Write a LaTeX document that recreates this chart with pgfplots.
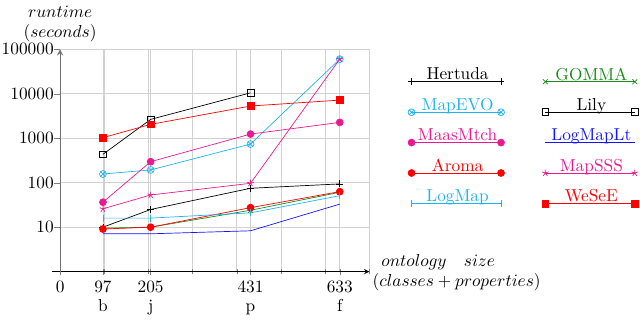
\documentclass[border=0pt]{standalone}
\usepackage{pgfplots}
\pgfplotsset{compat=1.18}
\usetikzlibrary{plotmarks}
\definecolor{mycyan}{RGB}{30,180,240}
\definecolor{mymagenta}{RGB}{235,25,145}
\definecolor{myred}{RGB}{255,0,0}
\definecolor{mygreen}{RGB}{25,140,25}
\definecolor{myblue}{RGB}{20,20,255}
\begin{document}
\begin{tikzpicture}
\begin{axis}[
  scale only axis, width=178bp, height=128bp,
  xmin=0, xmax=700, ymin=1, ymax=100000,
  ymode=log,
  axis lines=left,
  x axis line style={black, shorten <=-4.5bp},
  y axis line style={black!55, line width=0.6bp},
  xtick={0,97,205,431,633},
  xticklabels={0,{97\\b},{205\\j},{431\\p},{633\\f}},
  xticklabel style={align=center, font=\fontsize{10}{11}\selectfont},
  yticklabel style={inner xsep=1bp, xshift=1bp},
  minor xtick={100,200,300,400,500,600,700},
  ytick={10,100,1000,10000,100000},
  yticklabels={10,100,1000,10000,100000},
  yminorticks=false,
  xmajorgrids, ymajorgrids, xminorgrids,
  major grid style={gray!35},
  minor grid style={gray!35},
  major tick length=3.5bp,
  xtick align=center, ytick align=outside,
  every axis y label/.style={at={(axis description cs:0,1)}, anchor=south, align=center, yshift=1bp, font=\fontsize{10}{11.5}\selectfont},
  every axis x label/.style={at={(axis description cs:1,0)}, anchor=west, align=left, xshift=-1.6bp, yshift=-0.5bp},
  ylabel={$runtime$\\$(seconds)$},
  xlabel={\hspace*{5bp}$ontology\quad size$\\$(classes+properties)$},
  legend columns=2,
  legend plot pos=right,
  legend style={draw=none, fill=none, inner xsep=0pt, at={(axis description cs:1.127,0.95)}, anchor=north west,
    row sep=5bp, /tikz/every even column/.append style={column sep=21bp}},
  legend image code/.code={\draw[overlay] plot coordinates {(-54.5bp,-3.8bp) (-3bp,-3.8bp)};},
]
\addplot[black, mark=+] coordinates {(97,10) (205,25) (431,75) (633,94)};
\addlegendentry{\textcolor{black}{\makebox[52bp][c]{Hertuda}}}
\addplot[mygreen, mark=x] coordinates {(97,9.5) (205,10) (431,24) (633,61)};
\addlegendentry{\textcolor{mygreen}{\makebox[52bp][c]{GOMMA}}}
\addplot[mycyan, mark=otimes] coordinates {(97,157) (205,194) (431,740) (633,60000)};
\addlegendentry{\textcolor{mycyan}{\makebox[52bp][c]{MapEVO}}}
\addplot[black, mark=square] coordinates {(97,435) (205,2650) (431,10500)};
\addlegendentry{\textcolor{black}{\makebox[52bp][c]{Lily}}}
\addplot[mymagenta, mark=*] coordinates {(97,36.5) (205,297) (431,1240) (633,2270)};
\addlegendentry{\textcolor{mymagenta}{\makebox[52bp][c]{MaasMtch}}}
\addplot[myblue, no markers] coordinates {(97,7.1) (205,7.1) (431,8.3) (633,33)};
\addlegendentry{\textcolor{myblue}{\makebox[52bp][c]{LogMapLt}}}
\addplot[myred, mark=*] coordinates {(97,9.1) (205,10) (431,27.5) (633,63)};
\addlegendentry{\textcolor{myred}{\makebox[52bp][c]{Aroma}}}
\addplot[mymagenta, mark=star] coordinates {(97,25.9) (205,53) (431,97) (633,60000)};
\addlegendentry{\textcolor{mymagenta}{\makebox[52bp][c]{MapSSS}}}
\addplot[mycyan, mark=|] coordinates {(97,16) (205,16) (431,21) (633,51)};
\addlegendentry{\textcolor{mycyan}{\makebox[52bp][c]{LogMap}}}
\addplot[myred, mark=square*] coordinates {(97,1030) (205,2050) (431,5300) (633,7200)};
\addlegendentry{\textcolor{myred}{\makebox[52bp][c]{WeSeE}}}
\end{axis}
\end{tikzpicture}
\end{document}
